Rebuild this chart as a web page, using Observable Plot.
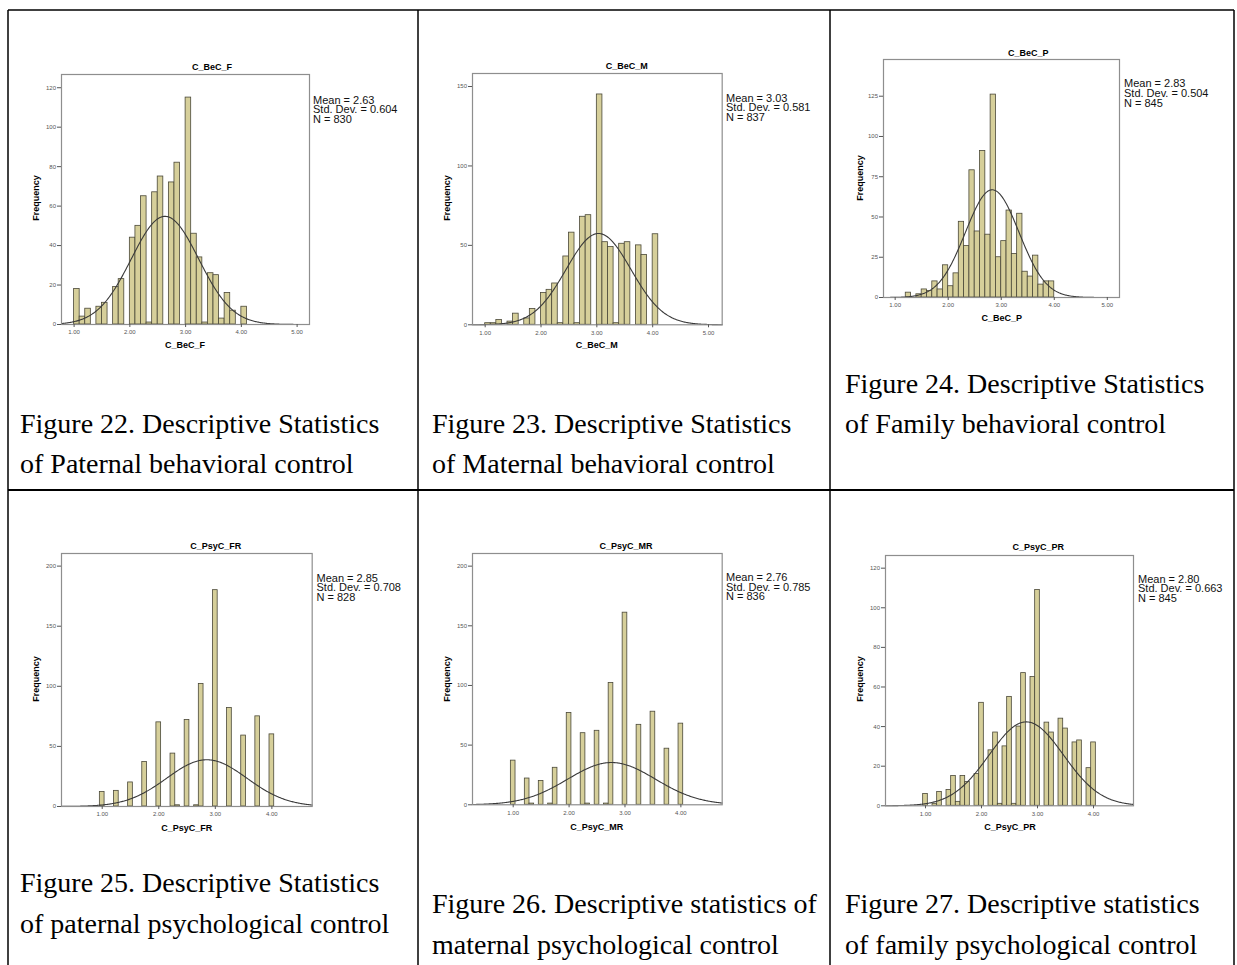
<!DOCTYPE html>
<html><head><meta charset="utf-8">
<script src="https://cdn.jsdelivr.net/npm/d3@7"></script>
<script src="https://cdn.jsdelivr.net/npm/@observablehq/plot@0.6"></script>
<style>
body{margin:0;background:#fff;}
#page{position:relative;width:1237px;height:965px;overflow:hidden;background:#fff;}
.chart{position:absolute;}
#overlay{position:absolute;left:0;top:0;}
</style></head><body><div id="page"></div>
<script>
// ---------- DATA ----------
const titles = ["C_BeC_F","C_BeC_M","C_BeC_P","C_PsyC_FR","C_PsyC_MR","C_PsyC_PR"];
const means = [2.63, 3.03, 2.83, 2.85, 2.76, 2.80];
const stdDevs = [0.604, 0.581, 0.504, 0.708, 0.785, 0.663];
const ns = [830, 837, 845, 828, 836, 845];
const meanLabels = ["2.63","3.03","2.83","2.85","2.76","2.80"];
const sdLabels = ["0.604","0.581","0.504","0.708","0.785","0.663"];

// behavioural control: bins of width 0.1, listed by their left edge
const binWidthBeC = 0.1;
const binStartsBeC = [1.0,1.1,1.2,1.3,1.4,1.5,1.6,1.7,1.8,1.9,2.0,2.1,2.2,2.3,2.4,2.5,2.6,2.7,2.8,2.9,3.0,3.1,3.2,3.3,3.4,3.5,3.6,3.7,3.8,3.9,4.0];
const countsBeCF = [18,4,8,0,9,11,0,19,23,0,44,50,65,1,67,75,0,72,82,0,115,46,34,1,26,25,3,16,7,0,9];
const countsBeCM = [1,1,3,0,2,7,0,4,10,0,20,22,26,1,43,58,1,68,69,0,145,52,49,1,51,52,0,50,44,0,57];
const countsBeCP = [0,0,3,0,2,5,4,10,5,20,7,15,47,32,79,41,91,39,126,25,35,54,27,52,16,13,26,8,10,10,0];

// psychological control: bins of width 1/12, listed by their centre
const binWidthPsyC = 1/12;
const binCentersPsyC = [1.000,1.083,1.167,1.250,1.333,1.417,1.500,1.583,1.667,1.750,1.833,1.917,2.000,2.083,2.167,2.250,2.333,2.417,2.500,2.583,2.667,2.750,2.833,2.917,3.000,3.083,3.167,3.250,3.333,3.417,3.500,3.583,3.667,3.750,3.833,3.917,4.000];
const countsPsyCFR = [12,0,0,13,0,0,20,0,0,37,0,0,70,0,0,44,1,0,72,0,1,102,0,0,180,0,0,82,0,0,59,0,0,75,0,0,60];
const countsPsyCMR = [37,0,0,22,1,0,20,0,1,31,0,0,77,0,0,60,1,0,62,0,1,102,0,0,161,0,0,67,0,0,78,0,0,47,0,0,68];
const countsPsyCPR = [6,0,1,7,0,8,15,2,15,12,0,16,52,0,28,37,1,30,55,1,40,67,0,65,109,0,42,37,0,44,39,0,32,33,0,19,32];

const xTicksBeC = [1,2,3,4,5];
const xTicksPsyC = [1,2,3,4];
const yTicks = [[0,20,40,60,80,100,120],[0,50,100,150],[0,25,50,75,100,125],[0,50,100,150,200],[0,50,100,150,200],[0,20,40,60,80,100,120]];

const captions = [
  ["Figure 22. Descriptive Statistics","of Paternal behavioral control"],
  ["Figure 23. Descriptive Statistics","of Maternal behavioral control"],
  ["Figure 24. Descriptive Statistics","of Family behavioral control"],
  ["Figure 25. Descriptive Statistics","of paternal psychological control"],
  ["Figure 26. Descriptive statistics of","maternal psychological control"],
  ["Figure 27. Descriptive statistics","of family psychological control"]
];

// ---------- LAYOUT ----------
const layout = [
  {fx:[60.7,308.7], fy:[74,324],   xd:[0.774,5.222], yd:[0,126.7], title:[212,66.5],   stats:[313,99.5],  ylab:[36,198],   xlab:[185,345]},
  {fx:[472.3,722],  fy:[72.7,324], xd:[0.773,5.245], yd:[0,158.2], title:[626.7,66],   stats:[726,97.5],  ylab:[447.3,198], xlab:[596.7,345]},
  {fx:[882.7,1118.7], fy:[59,297], xd:[0.78,5.23],   yd:[0,147.8], title:[1028.3,52.7],stats:[1124,83.3], ylab:[860,178],  xlab:[1001.7,317.7]},
  {fx:[61.3,312],   fy:[552.7,805.7], xd:[0.28,4.713], yd:[0,210.5], title:[215.7,545.7], stats:[316.5,577.5], ylab:[36,679], xlab:[186.7,828.3]},
  {fx:[472.3,722],  fy:[552.7,804], xd:[0.272,4.739], yd:[0,210.6], title:[626,545.7], stats:[726,577], ylab:[447.3,679], xlab:[596.7,826.7]},
  {fx:[885.3,1133.3], fy:[554.7,805], xd:[0.286,4.714], yd:[0,126.4], title:[1038.3,546.7], stats:[1138,578.5], ylab:[860,679], xlab:[1010,826.7]}
];
const captionPos = [
  {x:20, b:[433,473]}, {x:432, b:[433,473]}, {x:845, b:[393,433]},
  {x:20, b:[892,933]}, {x:432, b:[913,954]}, {x:845, b:[913,954]}
];

const page = document.getElementById("page");
const allCounts = [countsBeCF,countsBeCM,countsBeCP,countsPsyCFR,countsPsyCMR,countsPsyCPR];

function barsFor(i){
  if (i < 3) return binStartsBeC.map((s,k)=>({x1:s, x2:s+binWidthBeC, count:allCounts[i][k]})).filter(d=>d.count>0);
  return binCentersPsyC.map((c,k)=>({x1:c-binWidthPsyC/2, x2:c+binWidthPsyC/2, count:allCounts[i][k]})).filter(d=>d.count>0);
}

const ML=22, MR=4, MT=4, MB=16;
layout.forEach((cfg,i)=>{
  const bw = i<3 ? binWidthBeC : binWidthPsyC;
  const m = means[i], s = stdDevs[i], n = ns[i];
  const step = (cfg.xd[1]-cfg.xd[0])/300;
  const curve = d3.range(cfg.xd[0], cfg.xd[1]+step/2, step).map(x=>({x, y: n*bw*Math.exp(-0.5*((x-m)/s)**2)/(s*Math.sqrt(2*Math.PI))}));
  const W = cfg.fx[1]-cfg.fx[0]+ML+MR, H = cfg.fy[1]-cfg.fy[0]+MT+MB;
  const chart = Plot.plot({
    width: W, height: H, marginLeft: ML, marginRight: MR, marginTop: MT, marginBottom: MB,
    x: {domain: cfg.xd}, y: {domain: cfg.yd},
    style: {fontFamily: "'Liberation Sans', Arial, sans-serif", background: "transparent", overflow: "visible"},
    marks: [
      Plot.rect(barsFor(i), {x1:"x1", x2:"x2", y1: d=>0, y2:"count", fill:"#d6cf9a", stroke:"#4a4838", strokeWidth:0.8}),
      Plot.line(curve, {x:"x", y:"y", stroke:"#3a3a3a", strokeWidth:1.1}),
      Plot.frame({stroke:"#8e8e8e", strokeWidth:1.2}),
      Plot.axisY({ticks: yTicks[i], tickSize:4, tickPadding:1.5, fontSize:6, label:null, tickFormat:d3.format("d"), color:"#555"}),
      Plot.axisX({ticks: i<3 ? xTicksBeC : xTicksPsyC, tickSize:3, tickPadding:2.5, fontSize:6, label:null, tickFormat:d3.format(".2f"), color:"#555"})
    ]
  });
  chart.classList.add("chart");
  chart.style.left = (cfg.fx[0]-ML)+"px";
  chart.style.top = (cfg.fy[0]-MT)+"px";
  page.appendChild(chart);
});

// ---------- OVERLAY: table rules, chart titles, stats, captions ----------
const svg = d3.select(page).append("svg").attr("id","overlay").attr("width",1237).attr("height",965);
const rules = [[8,10,1234,10,1.5],[8,490,1234,490,2],[8,10,8,965,1.5],[418,10,418,965,1.5],[830,10,830,965,1.5],[1234,10,1234,965,1.5]];
svg.selectAll("line").data(rules).join("line")
  .attr("x1",d=>d[0]).attr("y1",d=>d[1]).attr("x2",d=>d[2]).attr("y2",d=>d[3])
  .attr("stroke","#000").attr("stroke-width",d=>d[4]);

const sans = "'Liberation Sans', Arial, sans-serif";
layout.forEach((cfg,i)=>{
  svg.append("text").attr("x",cfg.title[0]).attr("y",cfg.title[1]).attr("text-anchor","middle").attr("dominant-baseline","central")
    .attr("font-family",sans).attr("font-weight","bold").attr("font-size",9).text(titles[i]);
  svg.append("text").attr("x",cfg.xlab[0]).attr("y",cfg.xlab[1]).attr("text-anchor","middle").attr("dominant-baseline","central")
    .attr("font-family",sans).attr("font-weight","bold").attr("font-size",9).text(titles[i]);
  svg.append("text").attr("transform",`translate(${cfg.ylab[0]},${cfg.ylab[1]}) rotate(-90)`).attr("text-anchor","middle").attr("dominant-baseline","central")
    .attr("font-family",sans).attr("font-weight","bold").attr("font-size",9).text("Frequency");
  const lines = ["Mean = "+meanLabels[i], "Std. Dev. = "+sdLabels[i], "N = "+ns[i]];
  lines.forEach((t,k)=>{
    svg.append("text").attr("x",cfg.stats[0]).attr("y",cfg.stats[1]+k*9.6).attr("dominant-baseline","central")
      .attr("font-family",sans).attr("font-size",11).attr("fill","#111").text(t);
  });
});
captions.forEach((c,i)=>{
  c.forEach((t,k)=>{
    svg.append("text").attr("x",captionPos[i].x).attr("y",captionPos[i].b[k])
      .attr("font-family","'Liberation Serif','Times New Roman',serif").attr("font-size",28).attr("fill","#000").text(t);
  });
});
</script></body></html>
